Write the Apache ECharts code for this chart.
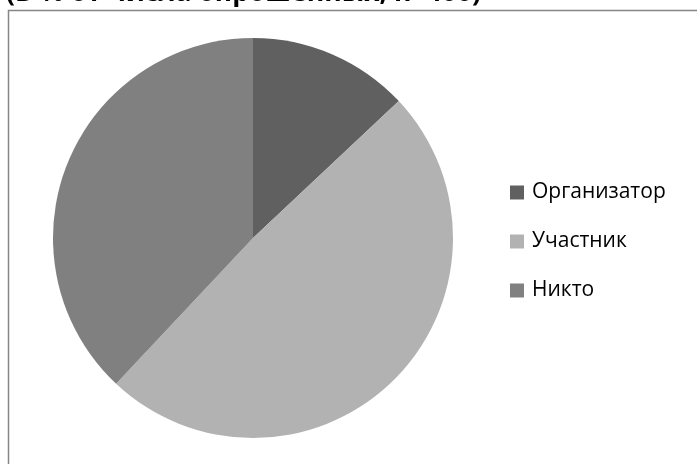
<!DOCTYPE html>
<html><head><meta charset="utf-8">
<script src="https://cdn.jsdelivr.net/npm/echarts@6/dist/echarts.min.js"></script>
<style>html,body{margin:0;padding:0;background:#fff}#c{width:697px;height:464px}</style>
</head><body><div id="c"></div>
<script>
const titleText = "(В % от числа опрошенных, n=400)";
const categories = ["Организатор", "Участник", "Никто"];
const values = [13, 49, 38];
const colors = ["#606060", "#b2b2b2", "#808080"];

const chart = echarts.init(document.getElementById('c'), null, {renderer: 'canvas'});
chart.setOption({
  animation: false,
  backgroundColor: '#ffffff',
  graphic: [
    {type: 'rect', z: 0, shape: {x: 8.5, y: 10.5, width: 800, height: 600},
     style: {fill: '#ffffff', stroke: '#868686', lineWidth: 1.5}},
    {type: 'text', z: 10, left: 6, top: -20,
     style: {text: titleText, font: 'bold 26.5px "Open Sans", sans-serif', fill: '#000'}}
  ],
  legend: {
    orient: 'vertical', left: 505, top: 177,
    itemWidth: 14, itemHeight: 14, itemGap: 28, icon: 'rect',
    textStyle: {fontFamily: '"Open Sans", sans-serif', fontSize: 21, color: '#000', padding: [0,0,0,3]},
    data: categories
  },
  series: [{
    type: 'pie', center: [253, 238], radius: 200, startAngle: 90, clockwise: true,
    label: {show: false}, labelLine: {show: false}, silent: true,
    itemStyle: {borderWidth: 0},
    data: categories.map((c, i) => ({name: c, value: values[i], itemStyle: {color: colors[i]}}))
  }]
});
</script></body></html>
